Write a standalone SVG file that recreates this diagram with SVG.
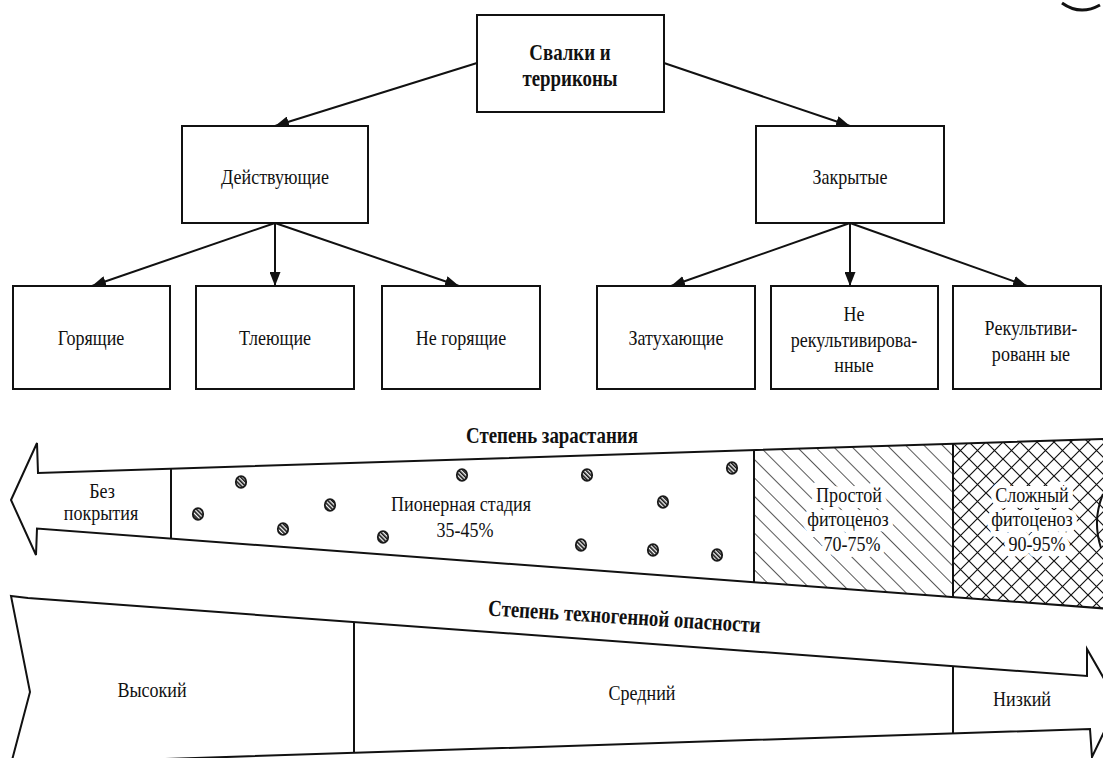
<svg xmlns="http://www.w3.org/2000/svg" width="1103" height="758" viewBox="0 0 1103 758">
<style>
.box{fill:#fff;stroke:#111;stroke-width:2}
.t{font-family:"Liberation Serif","Times New Roman",serif;font-size:22px;fill:#111;text-anchor:middle;transform-box:fill-box;transform-origin:center;transform:scaleX(0.82)}
.b{font-weight:bold;font-size:23px}
.halo{stroke:#fff;stroke-width:12px;stroke-linejoin:round;paint-order:stroke}
.conn line{stroke:#111;stroke-width:2;marker-end:url(#ah)}
.edge{fill:none;stroke:#111;stroke-width:2}
.dot{fill:url(#stripes);stroke:#1a1a1a;stroke-width:1.8}
</style>
<defs>
<marker id="ah" markerWidth="14" markerHeight="11" refX="14" refY="5.5" orient="auto" markerUnits="userSpaceOnUse">
<path d="M0,0 L14,5.5 L0,11 z" fill="#111"/>
</marker>
<pattern id="diag" width="13" height="13" patternUnits="userSpaceOnUse" patternTransform="rotate(-45)">
<line x1="0" y1="0" x2="0" y2="13" stroke="#111" stroke-width="1.4"/>
</pattern>
<pattern id="cross" width="17" height="17" patternUnits="userSpaceOnUse">
<path d="M0,0 L17,17 M17,0 L0,17" stroke="#111" stroke-width="1.2" fill="none"/>
</pattern>
<pattern id="stripes" width="3" height="3" patternUnits="userSpaceOnUse" patternTransform="rotate(-45)">
<rect width="3" height="3" fill="#fff"/>
<rect width="1.7" height="3" fill="#1a1a1a"/>
</pattern>
</defs>

<!-- tree nodes -->
<g id="n-root"><rect class="box" x="477" y="15" width="187" height="97"/>
<text class="t b" x="570" y="60">Свалки и</text>
<text class="t b" x="570" y="86">терриконы</text></g>
<g id="n-active"><rect class="box" x="182" y="126" width="186" height="97"/>
<text class="t" x="275" y="184">Действующие</text></g>
<g id="n-closed"><rect class="box" x="756" y="126" width="188" height="97"/>
<text class="t" x="850" y="184">Закрытые</text></g>
<g id="n-burning"><rect class="box" x="13" y="286" width="157" height="103"/>
<text class="t" x="91" y="345">Горящие</text></g>
<g id="n-smoldering"><rect class="box" x="196" y="286" width="158" height="103"/>
<text class="t" x="275" y="345">Тлеющие</text></g>
<g id="n-notburning"><rect class="box" x="382" y="286" width="158" height="103"/>
<text class="t" x="461" y="345">Не горящие</text></g>
<g id="n-fading"><rect class="box" x="597" y="286" width="158" height="103"/>
<text class="t" x="676" y="345">Затухающие</text></g>
<g id="n-notrecl"><rect class="box" x="771" y="286" width="167" height="103"/>
<text class="t" x="854" y="321">Не</text>
<text class="t" x="854" y="347">рекультивирова-</text>
<text class="t" x="854" y="372">нные</text></g>
<g id="n-recl"><rect class="box" x="953" y="286" width="148" height="103"/>
<text class="t" x="1031" y="335">Рекультиви-</text>
<text class="t" x="1031" y="361">рованн ые</text></g>

<!-- connectors -->
<g id="connectors" class="conn">
<line x1="477" y1="63" x2="275" y2="126"/>
<line x1="664" y1="63" x2="850" y2="126"/>
<line x1="275" y1="223" x2="92" y2="286"/>
<line x1="275" y1="223" x2="275" y2="286"/>
<line x1="275" y1="223" x2="459" y2="286"/>
<line x1="850" y1="223" x2="671" y2="286"/>
<line x1="850" y1="223" x2="850" y2="286"/>
<line x1="850" y1="223" x2="1027" y2="286"/>
</g>

<!-- overgrowth arrow -->
<g id="overgrowth">
<text class="t b" x="552" y="443">Степень зарастания</text>
<polygon points="11,500 37,443 38,473 1110,438.7 1110,608.9 37,528.5 36,555" fill="#fff" stroke="none"/>
<polygon points="754,450.1 953,443.7 953,597 754,582" fill="url(#diag)"/>
<polygon points="953,443.7 1110,438.7 1110,608.9 953,597" fill="url(#cross)"/>
<polygon class="edge" points="11,500 37,443 38,473 1110,438.7 1110,608.9 37,528.5 36,555"/>
<line class="edge" x1="171" y1="468.7" x2="171" y2="538"/>
<line class="edge" x1="754" y1="450.1" x2="754" y2="582"/>
<line class="edge" x1="953" y1="443.7" x2="953" y2="597"/>
<path class="edge" d="M1103,494 Q1092,520 1101,548"/>
<text class="t" x="102" y="498">Без</text>
<text class="t" x="101" y="520">покрытия</text>
<text class="t" x="461" y="511">Пионерная стадия</text>
<text class="t" x="465" y="537">35-45%</text>
<text class="t halo" x="849" y="502">Простой</text>
<text class="t halo" x="848" y="526">фитоценоз</text>
<text class="t halo" x="852" y="551">70-75%</text>
<text class="t halo" x="1032" y="502">Сложный</text>
<text class="t halo" x="1032" y="526">фитоценоз</text>
<text class="t halo" x="1037" y="551">90-95%</text>
<ellipse class="dot" cx="241" cy="482" rx="5.2" ry="5.8"/>
<ellipse class="dot" cx="198" cy="514" rx="5.2" ry="5.8"/>
<ellipse class="dot" cx="330" cy="505" rx="5.2" ry="5.8"/>
<ellipse class="dot" cx="283" cy="529" rx="5.2" ry="5.8"/>
<ellipse class="dot" cx="383" cy="537" rx="5.2" ry="5.8"/>
<ellipse class="dot" cx="462" cy="475" rx="5.2" ry="5.8"/>
<ellipse class="dot" cx="587" cy="475" rx="5.2" ry="5.8"/>
<ellipse class="dot" cx="732" cy="468" rx="5.2" ry="5.8"/>
<ellipse class="dot" cx="663" cy="502" rx="5.2" ry="5.8"/>
<ellipse class="dot" cx="581" cy="545" rx="5.2" ry="5.8"/>
<ellipse class="dot" cx="653" cy="550" rx="5.2" ry="5.8"/>
<ellipse class="dot" cx="717" cy="555" rx="5.2" ry="5.8"/>
</g>

<!-- technogenic hazard arrow -->
<g id="hazard">
<polygon class="edge" fill="#fff" points="11,596 28,598 1087,676 1087,649 1118,703 1092,757 1090,729 11,764 30,692"/>
<line class="edge" x1="354" y1="622" x2="354" y2="753"/>
<line class="edge" x1="953" y1="666.2" x2="953" y2="733.5"/>
<g transform="rotate(3.6 624 624)"><text class="t b" x="624" y="624">Степень техногенной опасности</text></g>
<text class="t" x="152" y="697">Высокий</text>
<text class="t" x="642" y="700">Средний</text>
<text class="t" x="1022" y="706">Низкий</text>
</g>

<path d="M1062,3 Q1080,16 1100,5" fill="none" stroke="#111" stroke-width="3"/>
</svg>
